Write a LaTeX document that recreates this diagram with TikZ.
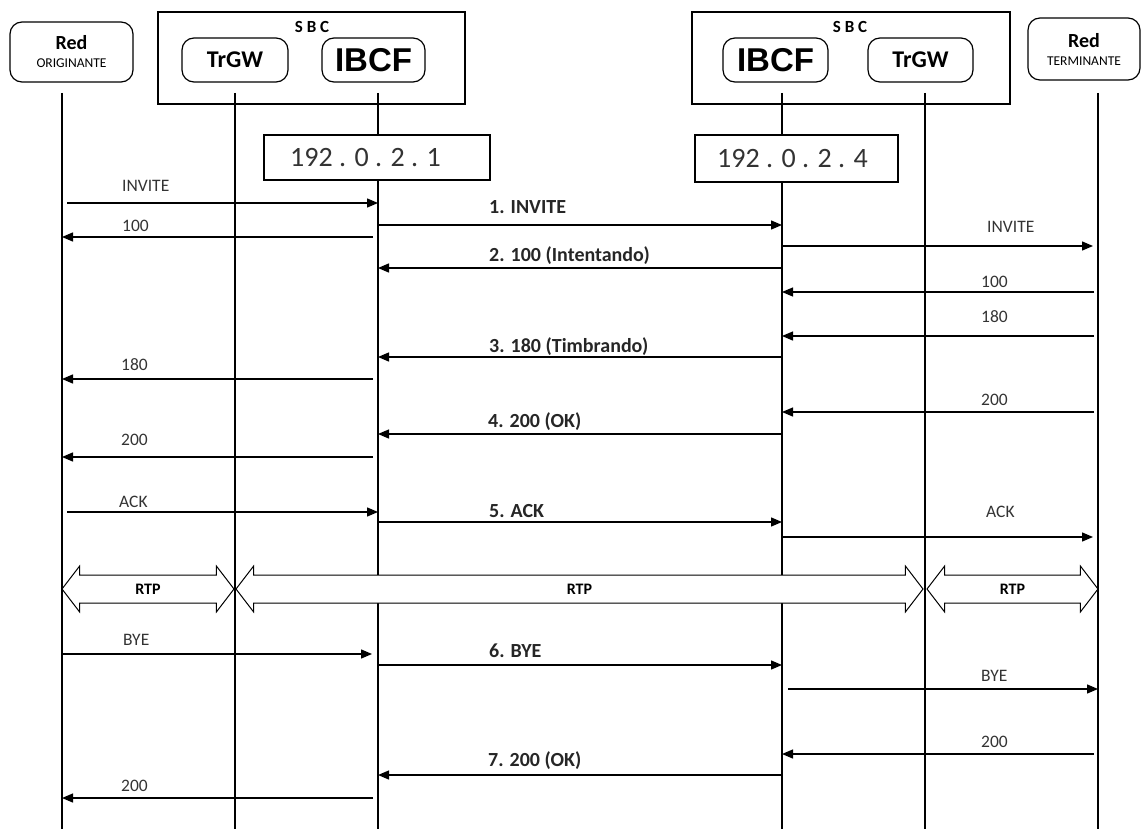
\documentclass[tikz,border=0pt]{standalone}
\usepackage{fontspec}
\setmainfont{Carlito}
\newfontfamily\arialfont{Liberation Sans}
\usetikzlibrary{shapes,arrows.meta,positioning,calc}
\tikzset{
	redbox/.style = {
		draw,
		rectangle,
		rounded corners=12pt,
		line width=1.2pt,
		align=center,
		font=\fontsize{20}{20}\selectfont\bfseries
	},
	elem/.style = {
		draw,
		rectangle,
		rounded corners=12pt,
		line width=1.2pt,
		minimum height=44pt
	},
	sbcbox/.style = {
		draw,
		rectangle,
		line width=1.2pt,
		minimum height=92pt
	},
	ipbox/.style = {
		draw,
		fill=white,
		rectangle,
		line width=1.2pt
	},
	iptext/.style = {
		anchor=west,
		inner sep=0pt,
		font=\fontsize{28}{30}\selectfont,
		text=black!80
	},
	vida/.style = {
		line width=1.2pt
	},
	msg/.style = {
		-{Triangle[length=11pt,width=9pt]},
		line width=1.3pt
	},
	lbl/.style = {
		anchor=base west,
		inner sep=0pt,
		font=\fontsize{17.5}{18}\selectfont,
		text=black!80
	},
	nlbl/.style = {
		anchor=base west,
		inner sep=0pt,
		font=\fontsize{20}{21}\selectfont\bfseries,
		text=black!85
	},
	rtp/.style = {
		draw,
		fill=white,
		double arrow,
		double arrow head extend=9pt,
		double arrow tip angle=105,
		text height=11pt,
		text depth=0pt,
		inner ysep=8pt,
		inner xsep=0pt,
		line width=1pt,
		font=\fontsize{16}{16}\selectfont\bfseries
	}
}

\begin{document}
\begin{tikzpicture}[x=1pt,y=-1pt]
		\useasboundingbox (0,0) rectangle (1143,829);
		
		% --- NODOS: cabeceras ---
		\node [redbox, minimum width=123pt, minimum height=60pt] (redO) at (71.5,52)
		{Red\\[-2pt]{\mdseries\fontsize{13.5}{14}\selectfont ORIGINANTE}};
		\node [redbox, minimum width=112pt, minimum height=62pt] (redT) at (1084,49)
		{Red\\[-2pt]{\mdseries\fontsize{13.5}{14}\selectfont TERMINANTE}};
		
		% Cajas SBC
		\node [sbcbox, minimum width=307pt] (sbcA) at (311.5,58) {};
		\node [sbcbox, minimum width=318pt] (sbcB) at (851,58) {};
		\node [font=\fontsize{17}{17}\selectfont\bfseries] (tSbcA) at (312,27) {S B C};
		\node [font=\fontsize{17}{17}\selectfont\bfseries] (tSbcB) at (850,27) {S B C};
		
		% Elementos dentro de cada SBC
		\node [elem, minimum width=106pt, font=\fontsize{24}{24}\selectfont\bfseries] (trgwA) at (235,60) {TrGW};
		\node [elem, minimum width=103pt, font=\arialfont\fontsize{33}{33}\selectfont\bfseries] (ibcfA) at (373.5,60) {IBCF};
		\node [elem, minimum width=105pt, font=\arialfont\fontsize{33}{33}\selectfont\bfseries] (ibcfB) at (775.5,60) {IBCF};
		\node [elem, minimum width=105pt, font=\fontsize{24}{24}\selectfont\bfseries] (trgwB) at (920.5,60) {TrGW};
		
		% --- LINEAS DE VIDA ---
		\coordinate (lRO) at (62,93);
		\coordinate (lTA) at (235,93);
		\coordinate (lIA) at (378,93);
		\coordinate (lIB) at (782,93);
		\coordinate (lTB) at (925,93);
		\coordinate (lRT) at (1098,93);
		\draw [vida] (lRO) -- (lRO |- 0,829);
		\draw [vida] (lTA) -- (lTA |- 0,829);
		\draw [vida] (lIA) -- (lIA |- 0,829);
		\draw [vida] (lIB) -- (lIB |- 0,829);
		\draw [vida] (lTB) -- (lTB |- 0,829);
		\draw [vida] (lRT) -- (lRT |- 0,829);
		
		% Direcciones IP (tapan la linea del IBCF)
		\node [ipbox, minimum width=226pt, minimum height=45pt] (ipA) at (377,157.5) {};
		\node [iptext] (tIpA) at (290,157.5) {192 . 0 . 2 . 1};
		\node [ipbox, minimum width=203pt, minimum height=47pt] (ipB) at (796.5,158.5) {};
		\node [iptext] (tIpB) at (717,158.5) {192 . 0 . 2 . 4};
		
		% --- MENSAJES ---
		% INVITE
		\draw [msg, shorten <=5pt] (lRO |- 0,203) -- (lIA |- 0,203);
		\node [lbl] (tInvO) at (122,192) {INVITE};
		\draw [msg, shorten <=5pt] (lIA |- 0,237) -- (lRO |- 0,237);
		\node [lbl] (t100O) at (122,232) {100};
		\draw [msg] (lIA |- 0,225) -- (lIB |- 0,225);
		\node [nlbl] (t1) at (489,214) {1. INVITE};
		\draw [msg, shorten >=5pt] (lIB |- 0,246) -- (lRT |- 0,246);
		\node [lbl] (tInvT) at (987,233) {INVITE};
		
		% 100 y 180
		\draw [msg] (lIB |- 0,268) -- (lIA |- 0,268);
		\node [nlbl] (t2) at (489,261) {2. 100 (Intentando)};
		\draw [msg, shorten <=4pt] (lRT |- 0,292) -- (lIB |- 0,292);
		\node [lbl] (t100T) at (981,287) {100};
		\draw [msg, shorten <=4pt] (lRT |- 0,336) -- (lIB |- 0,336);
		\node [lbl] (t180T) at (981,322) {180};
		\draw [msg] (lIB |- 0,357) -- (lIA |- 0,357);
		\node [nlbl] (t3) at (489,352) {3. 180 (Timbrando)};
		\draw [msg, shorten <=5pt] (lIA |- 0,379) -- (lRO |- 0,379);
		\node [lbl] (t180O) at (121,370) {180};
		
		% 200 OK
		\draw [msg, shorten <=4pt] (lRT |- 0,412) -- (lIB |- 0,412);
		\node [lbl] (t200T) at (981,405) {200};
		\draw [msg] (lIB |- 0,434) -- (lIA |- 0,434);
		\node [nlbl] (t4) at (488,427) {4. 200 (OK)};
		\draw [msg, shorten <=5pt] (lIA |- 0,457) -- (lRO |- 0,457);
		\node [lbl] (t200O) at (121,445) {200};
		
		% ACK
		\draw [msg, shorten <=5pt] (lRO |- 0,512) -- (lIA |- 0,512);
		\node [lbl] (tAckO) at (119,507) {ACK};
		\draw [msg] (lIA |- 0,522) -- (lIB |- 0,522);
		\node [nlbl] (t5) at (489,517) {5. ACK};
		\draw [msg, shorten >=5pt] (lIB |- 0,537) -- (lRT |- 0,537);
		\node [lbl] (tAckT) at (986,517) {ACK};
		
		% --- RTP ---
		\node [rtp, minimum height=172pt] (rtpO) at (148,589) {RTP};
		\node [rtp, minimum height=687pt] (rtpC) at (579.5,589) {RTP};
		\node [rtp, minimum height=171pt] (rtpT) at (1012.5,589) {RTP};
		
		% BYE
		\draw [msg, shorten >=6pt] (lRO |- 0,654) -- (lIA |- 0,654);
		\node [lbl] (tByeO) at (123,645) {BYE};
		\draw [msg] (lIA |- 0,665) -- (lIB |- 0,665);
		\node [nlbl] (t6) at (489,657) {6. BYE};
		\draw [msg, shorten <=6pt] (lIB |- 0,689) -- (lRT |- 0,689);
		\node [lbl] (tByeT) at (981,681) {BYE};
		
		% 200 OK del BYE
		\draw [msg, shorten <=4pt] (lRT |- 0,754) -- (lIB |- 0,754);
		\node [lbl] (t200T2) at (981,747) {200};
		\draw [msg] (lIB |- 0,775) -- (lIA |- 0,775);
		\node [nlbl] (t7) at (488,766) {7. 200 (OK)};
		\draw [msg, shorten <=5pt] (lIA |- 0,798) -- (lRO |- 0,798);
		\node [lbl] (t200O2) at (121,791) {200};
		
	\end{tikzpicture}
\end{document}
